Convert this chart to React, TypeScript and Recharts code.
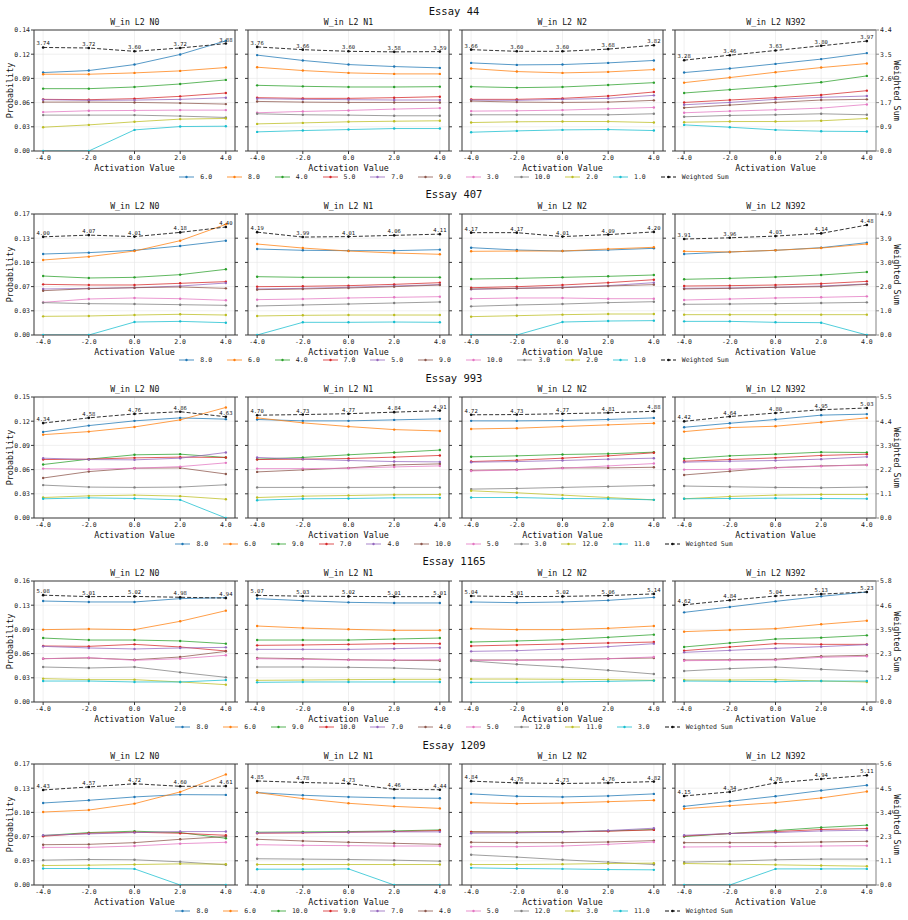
import React from 'react';
import { LineChart, Line, XAxis, YAxis, CartesianGrid, ReferenceLine, LabelList } from 'recharts';

const activationValues = [-4, -2, 0, 2, 4];
const xTicks = [-4, -2, 0, 2, 4];
const neuronTitles = ['W_in L2 N0', 'W_in L2 N1', 'W_in L2 N2', 'W_in L2 N392'];
const colors = ['#1f77b4', '#ff7f0e', '#2ca02c', '#d62728', '#9467bd', '#8c564b', '#e377c2', '#7f7f7f', '#bcbd22', '#17becf'];
const font = '"DejaVu Sans Mono", monospace';

// ---- Essay 44
const essay44Classes = ['6.0', '8.0', '4.0', '5.0', '7.0', '9.0', '3.0', '10.0', '2.0', '1.0'];
const essay44ProbTicks = ['0.00', '0.03', '0.06', '0.09', '0.12', '0.14'];
const essay44SumTicks = ['0.0', '0.9', '1.7', '2.6', '3.5', '4.4'];
const essay44ProbMax = 0.145;
const essay44SumMax = 4.37;
const essay44N0 = [
  [0.094, 0.0964, 0.1036, 0.1157, 0.1321],
  [0.092, 0.092, 0.0936, 0.096, 0.1],
  [0.0747, 0.0747, 0.0767, 0.0803, 0.0852],
  [0.0619, 0.0615, 0.0627, 0.0655, 0.0695],
  [0.0615, 0.0607, 0.061, 0.0619, 0.0639],
  [0.0586, 0.0586, 0.0582, 0.0574, 0.0562],
  [0.0466, 0.0482, 0.0486, 0.049, 0.049],
  [0.043, 0.043, 0.043, 0.0418, 0.0402],
  [0.0285, 0.0313, 0.035, 0.0382, 0.039],
  [0, 0, 0.0253, 0.0293, 0.0297],
];
const essay44N0Sum = [3.74, 3.72, 3.6, 3.72, 3.88];
const essay44N1 = [
  [0.1149, 0.1085, 0.1036, 0.1012, 0.0996],
  [0.1004, 0.0964, 0.0936, 0.0924, 0.0924],
  [0.0787, 0.0775, 0.0767, 0.0767, 0.0771],
  [0.0639, 0.0631, 0.0631, 0.0639, 0.0651],
  [0.0627, 0.0619, 0.0615, 0.0611, 0.0611],
  [0.0594, 0.0586, 0.0582, 0.0582, 0.0582],
  [0.0458, 0.0474, 0.0486, 0.0502, 0.0514],
  [0.0446, 0.0434, 0.043, 0.0422, 0.0422],
  [0.0325, 0.0337, 0.035, 0.0357, 0.0362],
  [0.0229, 0.0245, 0.0257, 0.0269, 0.0269],
];
const essay44N1Sum = [3.76, 3.66, 3.6, 3.58, 3.59];
const essay44N2 = [
  [0.1056, 0.1032, 0.1036, 0.1056, 0.1085],
  [0.0988, 0.0952, 0.0936, 0.0948, 0.0976],
  [0.0771, 0.0759, 0.0767, 0.0791, 0.0819],
  [0.0619, 0.0619, 0.0631, 0.0659, 0.0707],
  [0.061, 0.0607, 0.0619, 0.0631, 0.0667],
  [0.0598, 0.0586, 0.0582, 0.0586, 0.0607],
  [0.0478, 0.0482, 0.049, 0.0506, 0.0522],
  [0.0434, 0.0434, 0.0434, 0.0434, 0.0446],
  [0.0341, 0.035, 0.0353, 0.0353, 0.0341],
  [0.0225, 0.0241, 0.0253, 0.0257, 0.0245],
];
const essay44N2Sum = [3.66, 3.6, 3.6, 3.68, 3.82];
const essay44N392 = [
  [0.094, 0.0988, 0.1044, 0.1101, 0.1173],
  [0.0819, 0.088, 0.0944, 0.1, 0.1048],
  [0.0695, 0.0735, 0.0775, 0.0823, 0.09],
  [0.0582, 0.0611, 0.0639, 0.0671, 0.0723],
  [0.0554, 0.0582, 0.0619, 0.0643, 0.0659],
  [0.0518, 0.055, 0.0582, 0.0611, 0.0619],
  [0.0458, 0.0478, 0.0494, 0.0514, 0.0558],
  [0.041, 0.0426, 0.0434, 0.0446, 0.0434],
  [0.0345, 0.0353, 0.0353, 0.0362, 0.039],
  [0.0313, 0.0285, 0.0253, 0.0237, 0.0233],
];
const essay44N392Sum = [3.28, 3.46, 3.63, 3.8, 3.97];

// ---- Essay 407
const essay407Classes = ['8.0', '6.0', '4.0', '7.0', '5.0', '9.0', '10.0', '3.0', '2.0', '1.0'];
const essay407ProbTicks = ['0.00', '0.03', '0.07', '0.10', '0.13', '0.17'];
const essay407SumTicks = ['0.0', '1.0', '2.0', '3.0', '3.9', '4.9'];
const essay407ProbMax = 0.166;
const essay407SumMax = 4.93;
const essay407N0 = [
  [0.1111, 0.113, 0.1162, 0.1221, 0.1294],
  [0.1029, 0.1075, 0.1152, 0.1294, 0.1518],
  [0.0809, 0.0782, 0.0791, 0.0828, 0.0901],
  [0.0695, 0.0686, 0.0686, 0.0709, 0.0732],
  [0.0631, 0.064, 0.0649, 0.0672, 0.0713],
  [0.0608, 0.0636, 0.0649, 0.0659, 0.064],
  [0.0448, 0.0494, 0.0508, 0.0498, 0.0476],
  [0.0444, 0.043, 0.0425, 0.0416, 0.0407],
  [0.0256, 0.0261, 0.0274, 0.0284, 0.0274],
  [0, 0, 0.0178, 0.0187, 0.0169],
];
const essay407N0Sum = [4.0, 4.07, 4.01, 4.18, 4.4];
const essay407N1 = [
  [0.118, 0.1162, 0.1157, 0.1157, 0.1171],
  [0.1248, 0.1193, 0.1152, 0.1125, 0.1107],
  [0.08, 0.0791, 0.0791, 0.0791, 0.0791],
  [0.0663, 0.0668, 0.0677, 0.0695, 0.0718],
  [0.0631, 0.064, 0.0654, 0.0672, 0.0691],
  [0.0622, 0.0631, 0.0645, 0.0663, 0.0686],
  [0.0485, 0.0494, 0.0508, 0.0517, 0.0526],
  [0.0398, 0.0412, 0.0425, 0.0439, 0.0453],
  [0.0261, 0.027, 0.0274, 0.0274, 0.0274],
  [0, 0.0174, 0.0174, 0.0178, 0.0174],
];
const essay407N1Sum = [4.19, 3.99, 4.01, 4.06, 4.11];
const essay407N2 = [
  [0.1198, 0.1166, 0.1152, 0.1166, 0.1189],
  [0.1148, 0.1152, 0.1152, 0.118, 0.1203],
  [0.0768, 0.0777, 0.0791, 0.0805, 0.0823],
  [0.0649, 0.0663, 0.0686, 0.0718, 0.0759],
  [0.0626, 0.064, 0.0654, 0.0677, 0.0718],
  [0.0631, 0.064, 0.0649, 0.0672, 0.0691],
  [0.0498, 0.0508, 0.0508, 0.0498, 0.0498],
  [0.0393, 0.0412, 0.0425, 0.0444, 0.0457],
  [0.0252, 0.0265, 0.0279, 0.0288, 0.0288],
  [0, 0, 0.0178, 0.0192, 0.0197],
];
const essay407N2Sum = [4.17, 4.17, 4.01, 4.09, 4.2];
const essay407N392 = [
  [0.1111, 0.1139, 0.1162, 0.1198, 0.1267],
  [0.1148, 0.1139, 0.1162, 0.1193, 0.1248],
  [0.0764, 0.0777, 0.0796, 0.0823, 0.0864],
  [0.0672, 0.0677, 0.0686, 0.0704, 0.0736],
  [0.064, 0.0645, 0.0654, 0.0672, 0.07],
  [0.0631, 0.064, 0.0654, 0.0663, 0.0695],
  [0.048, 0.0494, 0.0508, 0.0517, 0.053],
  [0.0421, 0.0425, 0.043, 0.0439, 0.0448],
  [0.0279, 0.0279, 0.0279, 0.0279, 0.0279],
  [0.0187, 0.0187, 0.0174, 0.0169, 0],
];
const essay407N392Sum = [3.91, 3.96, 4.03, 4.14, 4.48];

// ---- Essay 993
const essay993Classes = ['8.0', '6.0', '9.0', '7.0', '4.0', '10.0', '5.0', '3.0', '12.0', '11.0'];
const essay993ProbTicks = ['0.00', '0.03', '0.06', '0.09', '0.12', '0.15'];
const essay993SumTicks = ['0.0', '1.1', '2.2', '3.3', '4.4', '5.5'];
const essay993ProbMax = 0.1507;
const essay993SumMax = 5.533;
const essay993N0 = [
  [0.1072, 0.1151, 0.121, 0.1247, 0.1231],
  [0.1038, 0.1076, 0.1134, 0.1222, 0.1377],
  [0.0666, 0.0733, 0.0787, 0.0795, 0.0754],
  [0.0728, 0.0733, 0.0749, 0.0758, 0.0754],
  [0.0745, 0.0728, 0.0724, 0.0745, 0.0816],
  [0.0498, 0.0578, 0.062, 0.0624, 0.0548],
  [0.0615, 0.0607, 0.062, 0.064, 0.0687],
  [0.041, 0.0385, 0.0381, 0.0385, 0.0414],
  [0.0255, 0.0276, 0.0285, 0.0272, 0.0234],
  [0.0239, 0.0251, 0.0243, 0.0226, 0],
];
const essay993N0Sum = [4.34, 4.58, 4.76, 4.86, 4.63];
const essay993N1 = [
  [0.1227, 0.121, 0.121, 0.1222, 0.1235],
  [0.1247, 0.1185, 0.1139, 0.1101, 0.1084],
  [0.0733, 0.0754, 0.0787, 0.0816, 0.0846],
  [0.0728, 0.0733, 0.0741, 0.0758, 0.0779],
  [0.0754, 0.0733, 0.0716, 0.0703, 0.0699],
  [0.0574, 0.0599, 0.0624, 0.0661, 0.0674],
  [0.0615, 0.0615, 0.062, 0.0636, 0.0649],
  [0.0381, 0.0381, 0.0381, 0.0381, 0.0381],
  [0.0255, 0.0272, 0.028, 0.0289, 0.0293],
  [0.0222, 0.0239, 0.0243, 0.0251, 0.0251],
];
const essay993N1Sum = [4.7, 4.73, 4.77, 4.84, 4.91];
const essay993N2 = [
  [0.121, 0.121, 0.1214, 0.1227, 0.1247],
  [0.1109, 0.1118, 0.1139, 0.116, 0.118],
  [0.0762, 0.0774, 0.0791, 0.08, 0.082],
  [0.0703, 0.072, 0.0745, 0.0774, 0.0812],
  [0.0695, 0.0703, 0.0716, 0.0733, 0.0745],
  [0.0594, 0.0603, 0.0624, 0.0624, 0.0632],
  [0.0586, 0.0599, 0.062, 0.0649, 0.0678],
  [0.036, 0.0368, 0.0381, 0.0393, 0.0406],
  [0.0339, 0.0314, 0.0285, 0.0255, 0.0226],
  [0.0255, 0.0255, 0.0243, 0.0239, 0.0226],
];
const essay993N2Sum = [4.72, 4.73, 4.77, 4.81, 4.88];
const essay993N392 = [
  [0.113, 0.118, 0.1227, 0.1281, 0.1294],
  [0.1076, 0.1126, 0.1143, 0.1193, 0.1247],
  [0.0737, 0.0774, 0.0795, 0.082, 0.0816],
  [0.0707, 0.0728, 0.0749, 0.0779, 0.0795],
  [0.0695, 0.0707, 0.0716, 0.0733, 0.0762],
  [0.0536, 0.0582, 0.0628, 0.0649, 0.0661],
  [0.0603, 0.0607, 0.0624, 0.0645, 0.0661],
  [0.0398, 0.0389, 0.0381, 0.0377, 0.0385],
  [0.0239, 0.0268, 0.0285, 0.0293, 0.0293],
  [0.0239, 0.0243, 0.0247, 0.0243, 0.0239],
];
const essay993N392Sum = [4.42, 4.64, 4.8, 4.95, 5.03];

// ---- Essay 1165
const essay1165Classes = ['8.0', '6.0', '9.0', '10.0', '7.0', '4.0', '5.0', '12.0', '11.0', '3.0'];
const essay1165ProbTicks = ['0.00', '0.03', '0.06', '0.09', '0.13', '0.16'];
const essay1165SumTicks = ['0.0', '1.2', '2.3', '3.5', '4.6', '5.8'];
const essay1165ProbMax = 0.157;
const essay1165SumMax = 5.753;
const essay1165N0 = [
  [0.131, 0.1298, 0.1298, 0.1341, 0.1354],
  [0.0939, 0.0947, 0.0939, 0.1047, 0.1185],
  [0.083, 0.0804, 0.0804, 0.0792, 0.0757],
  [0.0727, 0.0722, 0.0748, 0.0714, 0.0662],
  [0.0722, 0.0701, 0.0688, 0.0701, 0.0709],
  [0.0562, 0.0571, 0.0549, 0.0584, 0.0657],
  [0.0562, 0.0575, 0.0541, 0.0562, 0.0606],
  [0.0454, 0.0441, 0.0454, 0.0385, 0.032],
  [0.0303, 0.029, 0.029, 0.026, 0.0225],
  [0.0272, 0.0272, 0.026, 0.026, 0.0285],
];
const essay1165N0Sum = [5.08, 5.01, 5.02, 4.98, 4.94];
const essay1165N1 = [
  [0.1341, 0.1315, 0.1293, 0.1285, 0.1285],
  [0.0986, 0.096, 0.0943, 0.093, 0.093],
  [0.0804, 0.0804, 0.0804, 0.0817, 0.083],
  [0.0735, 0.074, 0.0748, 0.0757, 0.0757],
  [0.0683, 0.0683, 0.0683, 0.0692, 0.0705],
  [0.0571, 0.0562, 0.0549, 0.0541, 0.0536],
  [0.0562, 0.0554, 0.0545, 0.0545, 0.0549],
  [0.0454, 0.0454, 0.045, 0.0441, 0.042],
  [0.0281, 0.0285, 0.029, 0.0294, 0.0294],
  [0.0255, 0.026, 0.026, 0.026, 0.026],
];
const essay1165N1Sum = [5.07, 5.03, 5.02, 5.01, 5.01];
const essay1165N2 = [
  [0.1298, 0.1289, 0.1298, 0.1319, 0.1358],
  [0.0952, 0.0939, 0.0939, 0.0956, 0.0986],
  [0.0778, 0.0792, 0.0809, 0.0839, 0.0874],
  [0.0727, 0.074, 0.0753, 0.0766, 0.0778],
  [0.0657, 0.0666, 0.0688, 0.0718, 0.0757],
  [0.0545, 0.0545, 0.0549, 0.0562, 0.0571],
  [0.0541, 0.0541, 0.0545, 0.0562, 0.0584],
  [0.0532, 0.0489, 0.0454, 0.0411, 0.0363],
  [0.0298, 0.0298, 0.0294, 0.029, 0.0281],
  [0.0255, 0.0255, 0.026, 0.0268, 0.0277],
];
const essay1165N2Sum = [5.04, 5.01, 5.02, 5.06, 5.14];
const essay1165N392 = [
  [0.1163, 0.1233, 0.1306, 0.1371, 0.1427],
  [0.0913, 0.0934, 0.0952, 0.1008, 0.1055],
  [0.0714, 0.0766, 0.0817, 0.0835, 0.0865],
  [0.0666, 0.0714, 0.0757, 0.0748, 0.0748],
  [0.0644, 0.067, 0.0696, 0.0718, 0.0744],
  [0.0545, 0.0549, 0.0554, 0.0593, 0.0606],
  [0.0536, 0.0541, 0.0545, 0.058, 0.0593],
  [0.0402, 0.0433, 0.0454, 0.0424, 0.0398],
  [0.0285, 0.0285, 0.029, 0.0272, 0.026],
  [0.0272, 0.0268, 0.0264, 0.0272, 0.0272],
];
const essay1165N392Sum = [4.62, 4.84, 5.04, 5.13, 5.23];

// ---- Essay 1209
const essay1209Classes = ['8.0', '6.0', '10.0', '9.0', '7.0', '4.0', '5.0', '12.0', '3.0', '11.0'];
const essay1209ProbTicks = ['0.00', '0.03', '0.07', '0.10', '0.13', '0.17'];
const essay1209SumTicks = ['0.0', '1.1', '2.3', '3.4', '4.5', '5.6'];
const essay1209ProbMax = 0.166;
const essay1209SumMax = 5.64;
const essay1209N0 = [
  [0.1125, 0.1162, 0.1208, 0.124, 0.1236],
  [0.1001, 0.1028, 0.1116, 0.1277, 0.1517],
  [0.0678, 0.0719, 0.0738, 0.0719, 0.0641],
  [0.0669, 0.071, 0.0724, 0.071, 0.0682],
  [0.0682, 0.0701, 0.0719, 0.0733, 0.0733],
  [0.0553, 0.0558, 0.0581, 0.0627, 0.0664],
  [0.0516, 0.0516, 0.0535, 0.0567, 0.0586],
  [0.0341, 0.035, 0.0346, 0.0318, 0.0277],
  [0.0267, 0.0272, 0.0281, 0.029, 0.0286],
  [0.0226, 0.0226, 0.0221, 0, 0],
];
const essay1209N0Sum = [4.43, 4.57, 4.72, 4.6, 4.61];
const essay1209N1 = [
  [0.1268, 0.1231, 0.1208, 0.1194, 0.119],
  [0.1268, 0.1185, 0.1121, 0.1079, 0.1051],
  [0.0724, 0.0729, 0.0733, 0.0742, 0.0756],
  [0.071, 0.0715, 0.0724, 0.0733, 0.0747],
  [0.0715, 0.0719, 0.0724, 0.0729, 0.0729],
  [0.0627, 0.0604, 0.0586, 0.0572, 0.0558],
  [0.0553, 0.0544, 0.054, 0.0535, 0.0535],
  [0.036, 0.0355, 0.035, 0.0341, 0.0327],
  [0.0281, 0.0281, 0.0281, 0.0281, 0.0281],
  [0.0217, 0.0217, 0.0221, 0, 0],
];
const essay1209N1Sum = [4.85, 4.78, 4.73, 4.46, 4.44];
const essay1209N2 = [
  [0.125, 0.1217, 0.1208, 0.1222, 0.125],
  [0.113, 0.1116, 0.1125, 0.1143, 0.1162],
  [0.0729, 0.0729, 0.0733, 0.0742, 0.0761],
  [0.0729, 0.0724, 0.0729, 0.0738, 0.0756],
  [0.071, 0.0715, 0.0724, 0.0747, 0.0779],
  [0.0586, 0.0581, 0.0581, 0.059, 0.0609],
  [0.0526, 0.0526, 0.0535, 0.0558, 0.059],
  [0.0415, 0.0383, 0.0346, 0.0314, 0.0281],
  [0.0281, 0.0281, 0.0286, 0.0295, 0.03],
  [0.0235, 0.0226, 0.0221, 0.0212, 0.0208],
];
const essay1209N2Sum = [4.84, 4.76, 4.73, 4.76, 4.82];
const essay1209N392 = [
  [0.1079, 0.1148, 0.1217, 0.1296, 0.1369],
  [0.1047, 0.1088, 0.113, 0.1194, 0.1282],
  [0.0664, 0.0706, 0.0747, 0.0789, 0.0821],
  [0.0673, 0.0706, 0.0733, 0.0761, 0.0775],
  [0.0682, 0.0706, 0.0719, 0.0742, 0.0752],
  [0.0581, 0.0581, 0.0581, 0.059, 0.0599],
  [0.0521, 0.0526, 0.053, 0.0535, 0.054],
  [0.0314, 0.0327, 0.0346, 0.0355, 0.0355],
  [0.0295, 0.0286, 0.0277, 0.0267, 0.0258],
  [0, 0, 0.0221, 0.0221, 0.0221],
];
const essay1209N392Sum = [4.15, 4.34, 4.76, 4.94, 5.11];

const rows = [
  {
    title: 'Essay 44', classes: essay44Classes, probMax: essay44ProbMax, sumMax: essay44SumMax,
    probTicks: essay44ProbTicks, sumTicks: essay44SumTicks,
    panels: [[essay44N0, essay44N0Sum], [essay44N1, essay44N1Sum], [essay44N2, essay44N2Sum], [essay44N392, essay44N392Sum]],
  },
  {
    title: 'Essay 407', classes: essay407Classes, probMax: essay407ProbMax, sumMax: essay407SumMax,
    probTicks: essay407ProbTicks, sumTicks: essay407SumTicks,
    panels: [[essay407N0, essay407N0Sum], [essay407N1, essay407N1Sum], [essay407N2, essay407N2Sum], [essay407N392, essay407N392Sum]],
  },
  {
    title: 'Essay 993', classes: essay993Classes, probMax: essay993ProbMax, sumMax: essay993SumMax,
    probTicks: essay993ProbTicks, sumTicks: essay993SumTicks,
    panels: [[essay993N0, essay993N0Sum], [essay993N1, essay993N1Sum], [essay993N2, essay993N2Sum], [essay993N392, essay993N392Sum]],
  },
  {
    title: 'Essay 1165', classes: essay1165Classes, probMax: essay1165ProbMax, sumMax: essay1165SumMax,
    probTicks: essay1165ProbTicks, sumTicks: essay1165SumTicks,
    panels: [[essay1165N0, essay1165N0Sum], [essay1165N1, essay1165N1Sum], [essay1165N2, essay1165N2Sum], [essay1165N392, essay1165N392Sum]],
  },
  {
    title: 'Essay 1209', classes: essay1209Classes, probMax: essay1209ProbMax, sumMax: essay1209SumMax,
    probTicks: essay1209ProbTicks, sumTicks: essay1209SumTicks,
    panels: [[essay1209N0, essay1209N0Sum], [essay1209N1, essay1209N1Sum], [essay1209N2, essay1209N2Sum], [essay1209N392, essay1209N392Sum]],
  },
];

// layout
const PLOT_W = 201;
const PLOT_H = 121;
const LEFT_W = 34;
const RIGHT_W = 32;
const TOP_M = 10;
const X_H = 28;
const rowTop = (r: number) => 30 + r * 183.6;
const panelLeft = (p: number) => 34.3 + p * 213.7;
const spine = '#3a3a3a';

function Panel({ series, sum, row, first, last }: any) {
  const data = activationValues.map((x, i) => {
    const d: any = { x, ws: sum[i] };
    series.forEach((s: number[], k: number) => { d['s' + k] = s[i]; });
    return d;
  });
  const probTickValues = row.probTicks.map((_: string, i: number) => (row.probMax * i) / 5);
  const sumTickValues = row.sumTicks.map((_: string, i: number) => (row.sumMax * i) / 5);
  const tickStyle = { fontSize: 6.5, fill: '#222', fontFamily: font };
  return (
    <LineChart width={LEFT_W + PLOT_W + RIGHT_W} height={TOP_M + PLOT_H + X_H} data={data}
      margin={{ top: TOP_M, right: 0, bottom: 0, left: 0 }}>
      <CartesianGrid yAxisId="left" stroke="#e6e6e6" strokeWidth={0.6} />
      <XAxis dataKey="x" type="number" domain={[-4.4, 4.4]} ticks={xTicks} tickFormatter={(v: number) => v.toFixed(1)}
        height={X_H} stroke={spine} tick={tickStyle} tickSize={3} tickMargin={1} allowDataOverflow
        label={{ value: 'Activation Value', position: 'insideBottom', offset: 8.5, fontSize: 8.4, fill: '#111', fontFamily: font }} />
      <YAxis yAxisId="left" domain={[0, row.probMax]} ticks={probTickValues} allowDataOverflow
        tickFormatter={(v: number, i: number) => (first ? row.probTicks[i] : '')}
        width={LEFT_W} stroke={spine} tick={tickStyle} tickSize={3} tickMargin={1}
        label={first ? { value: 'Probability', angle: -90, position: 'insideLeft', offset: 9.7, fontSize: 8.4, fill: '#111', fontFamily: font, style: { textAnchor: 'middle' } } : undefined} />
      <YAxis yAxisId="right" orientation="right" domain={[0, row.sumMax]} ticks={sumTickValues} allowDataOverflow
        tickFormatter={(v: number, i: number) => (last ? row.sumTicks[i] : '')}
        width={RIGHT_W} stroke={last ? '#8a8a8a' : spine} tick={tickStyle} tickSize={3} tickMargin={1}
        label={last ? { value: 'Weighted Sum', angle: 90, position: 'insideRight', offset: 11.4, fontSize: 8.4, fill: '#111', fontFamily: font, style: { textAnchor: 'middle' } } : undefined} />
      <ReferenceLine yAxisId="left" y={row.probMax} stroke={spine} strokeWidth={1} />
      {series.map((_: number[], k: number) => (
        <Line key={k} yAxisId="left" dataKey={'s' + k} type="linear" stroke={colors[k]} strokeWidth={1}
          strokeOpacity={0.75} dot={{ r: 1.2, fill: colors[k], stroke: 'none' }} activeDot={false}
          isAnimationActive={false} />
      ))}
      <Line yAxisId="right" dataKey="ws" type="linear" stroke="#111" strokeWidth={1} strokeDasharray="4 2"
        strokeOpacity={0.85} dot={{ r: 1.3, fill: '#111', stroke: 'none' }} activeDot={false} isAnimationActive={false}>
        <LabelList dataKey="ws" position="top" offset={2} fontSize={5.5} fill="#111" fontFamily={font}
          formatter={(v: any) => Number(v).toFixed(2)} />
      </Line>
    </LineChart>
  );
}

function LegendRow({ classes, top }: { classes: string[]; top: number }) {
  return (
    <div style={{ position: 'absolute', left: 0, width: 908, top, height: 8, display: 'flex', justifyContent: 'center',
      alignItems: 'center', gap: 15, fontFamily: font, fontSize: 6.5, color: '#222', whiteSpace: 'nowrap' }}>
      {classes.map((c, k) => (
        <div key={c} style={{ display: 'flex', alignItems: 'center' }}>
          <svg width={15} height={6}>
            <line x1={0} x2={15} y1={3} y2={3} stroke={colors[k]} strokeWidth={1} strokeOpacity={0.8} />
            <circle cx={7.5} cy={3} r={1.2} fill={colors[k]} />
          </svg>
          <span style={{ marginLeft: 6 }}>{c}</span>
        </div>
      ))}
      <div style={{ display: 'flex', alignItems: 'center' }}>
        <svg width={15} height={6}>
          <line x1={0} x2={15} y1={3} y2={3} stroke="#111" strokeWidth={1} strokeDasharray="4 2" />
          <circle cx={7.5} cy={3} r={1.3} fill="#111" />
        </svg>
        <span style={{ marginLeft: 6 }}>Weighted Sum</span>
      </div>
    </div>
  );
}

export default function App() {
  return (
    <div style={{ position: 'absolute', left: 0, top: 0, width: 908, height: 920, background: '#fff', overflow: 'hidden' }}>
      {rows.map((row, r) => {
        const top = rowTop(r);
        return (
          <React.Fragment key={row.title}>
            <div style={{ position: 'absolute', left: 0, width: 908, top: top - 26.5, height: 14, lineHeight: '14px',
              textAlign: 'center', fontFamily: font, fontSize: 10.5, color: '#111' }}>{row.title}</div>
            {row.panels.map(([series, sum], p) => (
              <React.Fragment key={p}>
                <div style={{ position: 'absolute', left: panelLeft(p), width: PLOT_W, top: top - 13, height: 10,
                  lineHeight: '10px', textAlign: 'center', fontFamily: font, fontSize: 8.2, color: '#111' }}>
                  {neuronTitles[p]}
                </div>
                <div style={{ position: 'absolute', left: panelLeft(p) - LEFT_W, top: top - TOP_M }}>
                  <Panel series={series} sum={sum} row={row} first={p === 0} last={p === 3} />
                </div>
              </React.Fragment>
            ))}
            <LegendRow classes={row.classes} top={top + PLOT_H + 21.5} />
          </React.Fragment>
        );
      })}
    </div>
  );
}
